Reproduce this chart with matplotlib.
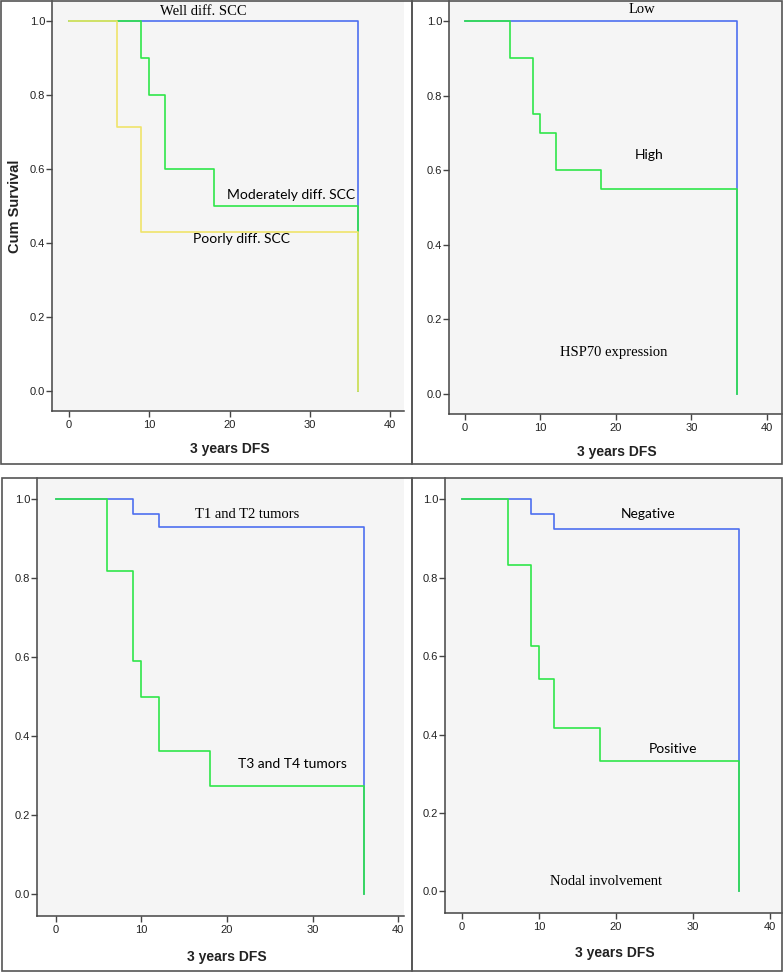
import matplotlib
matplotlib.use("Agg")
import matplotlib.pyplot as plt
from matplotlib.patches import Rectangle

# Kaplan-Meier steps: event times (months) and survival after each step
# panel 1 - differentiation
well_t = [0, 36]
well_s = [1.0, 0.0]
mod_t = [0, 9, 10, 12, 18, 36]
mod_s = [1.0, 0.9, 0.8, 0.6, 0.5, 0.0]
poor_t = [0, 6, 9, 36]
poor_s = [1.0, 0.714, 0.429, 0.0]

# panel 2 - HSP70 expression
low_t = [0, 36]
low_s = [1.0, 0.0]
high_t = [0, 6, 9, 10, 12, 18, 36]
high_s = [1.0, 0.9, 0.75, 0.7, 0.6, 0.55, 0.0]

# panel 3 - tumor size
t12_t = [0, 9, 12, 36]
t12_s = [1.0, 0.964, 0.929, 0.0]
t34_t = [0, 6, 9, 10, 12, 18, 36]
t34_s = [1.0, 0.818, 0.591, 0.5, 0.364, 0.273, 0.0]

# panel 4 - nodal involvement
neg_t = [0, 9, 12, 36]
neg_s = [1.0, 0.962, 0.923, 0.0]
pos_t = [0, 6, 9, 10, 12, 18, 36]
pos_s = [1.0, 0.833, 0.625, 0.542, 0.417, 0.333, 0.0]

x_ticks = [0, 10, 20, 30, 40]
y_ticks = [0.0, 0.2, 0.4, 0.6, 0.8, 1.0]

BLUE = '#4d6ff0'
GREEN = '#30e64a'
YELLOW = '#efe46a'
W, H = 784, 973

NARROW = ['Liberation Sans Narrow', 'Liberation Sans', 'DejaVu Sans']
SERIF = ['Liberation Serif', 'DejaVu Serif']
SANS = ['Lato', 'DejaVu Sans']

fig = plt.figure(figsize=(W / 100, H / 100), dpi=100)


def px_axes(left, top, right, bottom, xlim):
    ax = fig.add_axes([left / W, 1 - bottom / H, (right - left) / W, (bottom - top) / H])
    ax.set_facecolor('#f5f5f5')
    ax.set_xlim(*xlim)
    ax.set_ylim(-0.055, 1.054)
    ax.set_xticks(x_ticks)
    ax.set_yticks(y_ticks)
    ax.set_yticklabels([f'{v:.1f}' for v in y_ticks])
    for side in ['top', 'right']:
        ax.spines[side].set_visible(False)
    for side in ['left', 'bottom']:
        ax.spines[side].set_color('#444444')
        ax.spines[side].set_linewidth(1.1)
    ax.tick_params(axis='x', length=4, width=1, color='#444444', pad=2.5, labelsize=8)
    ax.tick_params(axis='y', length=4, width=1, color='#444444', pad=1, labelsize=8)
    for lbl in ax.get_xticklabels() + ax.get_yticklabels():
        lbl.set_family(NARROW)
        lbl.set_color('#222222')
    ax.set_xlabel('3 years DFS', fontsize=10, fontweight='bold', family=NARROW, color='#222222')
    ax.xaxis.label.set_va('center')
    return ax


def km(ax, t, s, color, z):
    ax.step(t, s, where='post', color=color, lw=1.2, zorder=z)


def border(x0, y0, x1, y1):
    fig.add_artist(Rectangle((x0 / W, 1 - y1 / H), (x1 - x0) / W, (y1 - y0) / H,
                             transform=fig.transFigure, fill=False,
                             ec='#555555', lw=1.2, zorder=5))


# panel 1
ax1 = px_axes(52, 1, 404, 411, (-2.12, 41.7))
km(ax1, well_t, well_s, BLUE, 2)
km(ax1, mod_t, mod_s, GREEN, 3)
km(ax1, poor_t, poor_s, YELLOW, 4)
ax1.set_ylabel('Cum Survival', fontsize=10.5, fontweight='bold', family=NARROW, color='#222222')
ax1.yaxis.label.set_va('center')
ax1.yaxis.set_label_coords((15 - 52) / 352, 0.5)
ax1.xaxis.set_label_coords(0.506, (411 - 449) / 410)
ax1.text(16.7, 1.026, 'Well diff. SCC', family=SERIF, fontsize=10.5, ha='center', va='center')
ax1.text(27.7, 0.53, 'Moderately diff. SCC', family=SANS, fontsize=10, ha='center', va='center')
ax1.text(21.5, 0.41, 'Poorly diff. SCC', family=SANS, fontsize=10, ha='center', va='center')

# panel 2
ax2 = px_axes(449, 1, 782, 414, (-2.12, 42.0))
km(ax2, low_t, low_s, BLUE, 2)
km(ax2, high_t, high_s, GREEN, 3)
ax2.xaxis.set_label_coords(0.505, (414 - 452) / 413)
ax2.text(23.4, 1.03, 'Low', family=SERIF, fontsize=10.5, ha='center', va='center')
ax2.text(24.4, 0.64, 'High', family=SANS, fontsize=10, ha='center', va='center')
ax2.text(19.7, 0.111, 'HSP70 expression', family=SERIF, fontsize=10.5, ha='center', va='center')

# panel 3
ax3 = px_axes(37, 478, 404, 916, (-2.22, 40.7))
km(ax3, t12_t, t12_s, BLUE, 2)
km(ax3, t34_t, t34_s, GREEN, 3)
ax3.xaxis.set_label_coords(0.518, (916 - 957) / 438)
ax3.text(22.3, 0.962, 'T1 and T2 tumors', family=SERIF, fontsize=10.5, ha='center', va='center')
ax3.text(27.7, 0.33, 'T3 and T4 tumors', family=SANS, fontsize=10, ha='center', va='center')

# panel 4
ax4 = px_axes(445, 478, 782, 913, (-2.2, 41.6))
km(ax4, neg_t, neg_s, BLUE, 2)
km(ax4, pos_t, pos_s, GREEN, 3)
ax4.xaxis.set_label_coords(0.504, (913 - 953) / 435)
ax4.text(24.2, 0.962, 'Negative', family=SANS, fontsize=10, ha='center', va='center')
ax4.text(27.4, 0.362, 'Positive', family=SANS, fontsize=10, ha='center', va='center')
ax4.text(18.7, 0.026, 'Nodal involvement', family=SERIF, fontsize=10.5, ha='center', va='center')

border(1, 1, 412, 464)
border(412, 1, 782, 464)
border(2, 478, 412, 971)
border(412, 478, 782, 971)

fig.savefig('out.png', dpi=100, facecolor='white')
